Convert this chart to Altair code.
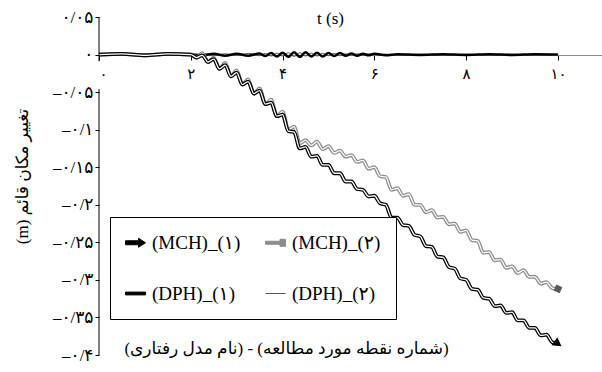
import json

import altair as alt
import pandas as pd

# ---------------------------------------------------------------- data
series_names = ["(MCH)_(۱)", "(MCH)_(۲)", "(DPH)_(۱)", "(DPH)_(۲)"]

# sampling times of the MCH records (s)
mch_t = [0, 0.5, 1.0, 1.5, 2.0,
         2.125, 2.25, 2.375, 2.5, 2.625, 2.75, 2.875, 3.0,
         3.125, 3.25, 3.375, 3.5, 3.625, 3.75, 3.875, 4.0,
         4.125, 4.25, 4.375, 4.5, 4.625, 4.75, 4.875, 5.0,
         5.125, 5.25, 5.375, 5.5, 5.625, 5.75, 5.875, 6.0,
         6.125, 6.25, 6.375, 6.5, 6.625, 6.75, 6.875, 7.0,
         7.125, 7.25, 7.375, 7.5, 7.625, 7.75, 7.875, 8.0,
         8.125, 8.25, 8.375, 8.5, 8.625, 8.75, 8.875, 9.0,
         9.125, 9.25, 9.375, 9.5, 9.625, 9.75, 9.875, 10.0]

# vertical displacement (m), point 1, MCH model
mch1_v = [0, 0.001, -0.001, 0.001, 0,
          -0.004, -0.001, -0.010, -0.006, -0.019, -0.014, -0.029, -0.024,
          -0.040, -0.036, -0.052, -0.048, -0.066, -0.064, -0.082, -0.080,
          -0.102, -0.103, -0.125, -0.123, -0.136, -0.135, -0.147, -0.147,
          -0.158, -0.158, -0.169, -0.169, -0.179, -0.180, -0.189, -0.188,
          -0.198, -0.200, -0.217, -0.217, -0.227, -0.228, -0.240, -0.242,
          -0.255, -0.256, -0.269, -0.270, -0.283, -0.285, -0.298, -0.300,
          -0.312, -0.313, -0.324, -0.325, -0.335, -0.334, -0.344, -0.343,
          -0.354, -0.354, -0.364, -0.364, -0.374, -0.373, -0.383, -0.385]

# vertical displacement (m), point 2, MCH model
mch2_v = [0, 0.001, -0.001, 0.001, 0,
          -0.004, 0.002, -0.010, -0.004, -0.019, -0.011, -0.029, -0.021,
          -0.040, -0.033, -0.052, -0.045, -0.066, -0.060, -0.082, -0.076,
          -0.100, -0.096, -0.118, -0.114, -0.121, -0.116, -0.126, -0.122,
          -0.131, -0.128, -0.136, -0.134, -0.143, -0.141, -0.152, -0.150,
          -0.162, -0.163, -0.180, -0.178, -0.188, -0.186, -0.200, -0.200,
          -0.210, -0.207, -0.217, -0.216, -0.226, -0.225, -0.236, -0.234,
          -0.247, -0.248, -0.264, -0.263, -0.274, -0.273, -0.284, -0.282,
          -0.291, -0.287, -0.296, -0.296, -0.305, -0.303, -0.311, -0.312]

# sampling times of the DPH records (s)
dph_t = [0, 0.5, 1.0, 1.5, 2.0, 2.25, 2.5, 2.75, 3.0, 3.25, 3.5,
         3.625, 3.75, 3.875, 4.0, 4.125, 4.25, 4.375, 4.5,
         4.625, 4.75, 4.875, 5.0, 5.125, 5.25, 5.375, 5.5,
         5.625, 5.75, 5.875, 6.0, 6.25, 6.5,
         7.0, 7.5, 8.0, 8.5, 9.0, 9.5, 10.0]

dph1_v = [0, 0.0005, -0.0005, 0.0005, 0, -0.001, 0.001, -0.0015, 0.001, -0.0015, 0.0015,
          -0.002, 0.002, -0.0025, 0.0025, -0.003, 0.003, -0.003, 0.003,
          -0.0025, 0.0025, -0.0025, 0.002, -0.002, 0.002, -0.0015, 0.0015,
          -0.0015, 0.001, -0.001, 0.001, -0.001, 0.0005,
          -0.0005, 0.0005, -0.0005, 0.0005, -0.0005, 0.0005, 0]

dph2_v = [0, -0.0005, 0.0005, -0.0005, 0, 0.001, -0.001, 0.001, -0.001, 0.0015, -0.0015,
          0.0015, -0.002, 0.002, -0.002, 0.0025, -0.0025, 0.0025, -0.002,
          0.002, -0.002, 0.0015, -0.0015, 0.0015, -0.0015, 0.001, -0.001,
          0.001, -0.001, 0.001, -0.0005, 0.0005, -0.0005,
          0.0005, -0.0005, 0.0005, -0.0005, 0.0005, -0.0005, 0]

x_ticks = [0, 2, 4, 6, 8, 10]
x_tick_labels = ["۰", "۲", "۴", "۶", "۸", "۱۰"]
y_ticks = [0.05, 0, -0.05, -0.1, -0.15, -0.2, -0.25, -0.3, -0.35, -0.4]
y_tick_labels = ["۰/۰۵", "۰", "–۰/۰۵", "–۰/۱", "–۰/۱۵", "–۰/۲",
                 "–۰/۲۵", "–۰/۳", "–۰/۳۵", "–۰/۴"]

x_title = "t (s)"
y_title = "(m) تغییر مکان قائم"
caption = "\u200f(شماره نقطه مورد مطالعه) - (نام مدل رفتاری)\u200f"

# ---------------------------------------------------------------- style
SERIF = "Liberation Serif, DejaVu Sans"
MCH1_COLOR, MCH2_COLOR = "#000000", "#8c8c8c"
DPH1_COLOR, DPH2_COLOR = "#000000", "#555555"

# ---------------------------------------------------------------- tables
n = len(mch_t)
df_mch1 = pd.DataFrame({"t": mch_t, "v": mch1_v, "series": [series_names[0]] * n})
df_mch2 = pd.DataFrame({"t": mch_t, "v": mch2_v, "series": [series_names[1]] * n})
m = len(dph_t)
df_dph1 = pd.DataFrame({"t": dph_t, "v": dph1_v, "series": [series_names[2]] * m})
df_dph2 = pd.DataFrame({"t": dph_t, "v": dph2_v, "series": [series_names[3]] * m})
df_end1 = df_mch1.tail(1)
df_end2 = df_mch2.tail(1)
# vertical axis line, interrupted behind the "0" tick label of the time axis
df_yaxis = pd.DataFrame({"y1": [0.05, -0.046], "y2": [-0.009, -0.4]})

# ---------------------------------------------------------------- scales / axes
x_scale = alt.Scale(domain=[0, 10.96], nice=False, zero=False)
y_scale = alt.Scale(domain=[-0.4, 0.05], nice=False, zero=False)

x_label_expr = (f"{json.dumps(x_tick_labels, ensure_ascii=False)}"
                f"[indexof({json.dumps(x_ticks)}, datum.value)]")
y_keys = [round(v * 100) for v in y_ticks]
y_label_expr = (f"{json.dumps(y_tick_labels, ensure_ascii=False)}"
                f"[indexof({json.dumps(y_keys)}, round(datum.value * 100))]")

x_axis = alt.Axis(
    orient="bottom", offset=-300, values=x_ticks, labelExpr=x_label_expr,
    grid=False, domainColor="#8c8c8c", tickColor="#000000", tickSize=5,
    labelFont=SERIF, labelFontSize=15, labelColor="#000000", labelPadding=6,
    title=x_title, titleX=231, titleY=-37, titleAlign="center", titleBaseline="middle",
    titleFont=SERIF, titleFontSize=17, titleFontWeight="normal", titleColor="#000000",
)
y_axis = alt.Axis(
    orient="left", values=y_ticks, labelExpr=y_label_expr, grid=False, domain=False,
    tickColor="#000000", tickSize=4, labelPadding=2,
    labelFont=SERIF, labelFontSize=17, labelColor="#000000",
    title=y_title, titleX=-77, titleY=159, titleAngle=270, titleAlign="center",
    titleBaseline="middle", titleFont=SERIF, titleFontSize=17,
    titleFontWeight="normal", titleColor="#000000",
)

# legend symbols: arrow, grey bar with end tab, thick bar, thin line
sym_paths = [
    "M-1,-0.2L0.3,-0.2L0.3,-0.45L1,0L0.3,0.45L0.3,0.2L-1,0.2Z",
    "M-1,-0.15L0.45,-0.15L0.45,0.15L-1,0.15ZM0.45,-0.35L1,-0.35L1,0.35L0.45,0.35Z",
    "M-1,-0.14L1,-0.14L1,0.14L-1,0.14Z",
    "M-1,0L1,0",
]
sym_fill = ["#000000", "#8c8c8c", "#000000", "transparent"]
entry_index = f"indexof({json.dumps(series_names, ensure_ascii=False)}, datum.value)"


def per_entry(values):
    return alt.ExprRef(expr=f"{json.dumps(values)}[{entry_index}]")


legend = alt.Legend(
    title=None, orient="none", legendX=11, legendY=200, columns=2,
    direction="horizontal",
    padding=15, rowPadding=30, columnPadding=22, symbolSize=400,
    symbolType=per_entry(sym_paths), symbolFillColor=per_entry(sym_fill),
    symbolStrokeWidth=1,
    labelFont=SERIF, labelFontSize=19, labelColor="#000000", labelOffset=6,
    strokeColor="#000000", fillColor="#ffffff",
)
color = alt.Color(
    "series:N", legend=legend,
    scale=alt.Scale(domain=series_names,
                    range=[MCH1_COLOR, MCH2_COLOR, DPH1_COLOR, DPH2_COLOR]),
)

X = alt.X("t:Q", scale=x_scale, axis=x_axis)
Y = alt.Y("v:Q", scale=y_scale, axis=y_axis)


def line(df, width, col=None):
    return alt.Chart(df).mark_line(strokeWidth=width, interpolate="monotone").encode(
        x=X, y=Y, color=col if col is not None else color)


layers = [
    line(df_dph2, 1.0),
    line(df_dph1, 2.6),
    line(df_mch2, 3.8),
    line(df_mch2, 1.3, alt.value("#ffffff")),
    line(df_mch1, 3.8),
    line(df_mch1, 1.3, alt.value("#ffffff")),
    alt.Chart(df_end2).mark_point(shape="square", angle=25, size=45, filled=True,
                                  color="#5a5a5a", opacity=1).encode(x=X, y=Y),
    alt.Chart(df_end1).mark_point(shape="triangle-right", angle=36, size=100,
                                  filled=True, color="#000000", opacity=1).encode(x=X, y=Y),
    alt.Chart(df_yaxis).mark_rule(color="#000000", strokeWidth=1).encode(
        x=alt.value(0), y=alt.Y("y1:Q", scale=y_scale, axis=y_axis), y2="y2:Q"),
]

chart = alt.layer(*layers).properties(
    width=503, height=338,
    autosize=alt.AutoSizeParams(type="none"),
    padding={"left": 99, "top": 17, "right": 0, "bottom": 17},
    title=alt.TitleParams(caption, orient="bottom", anchor="middle", frame="group",
                          dx=-64, offset=-22, font=SERIF, fontSize=17,
                          fontWeight="normal", color="#000000"),
    background="#ffffff",
).configure_view(stroke=None)

chart.save("out.html", embed_options={"renderer": "svg", "actions": False})
